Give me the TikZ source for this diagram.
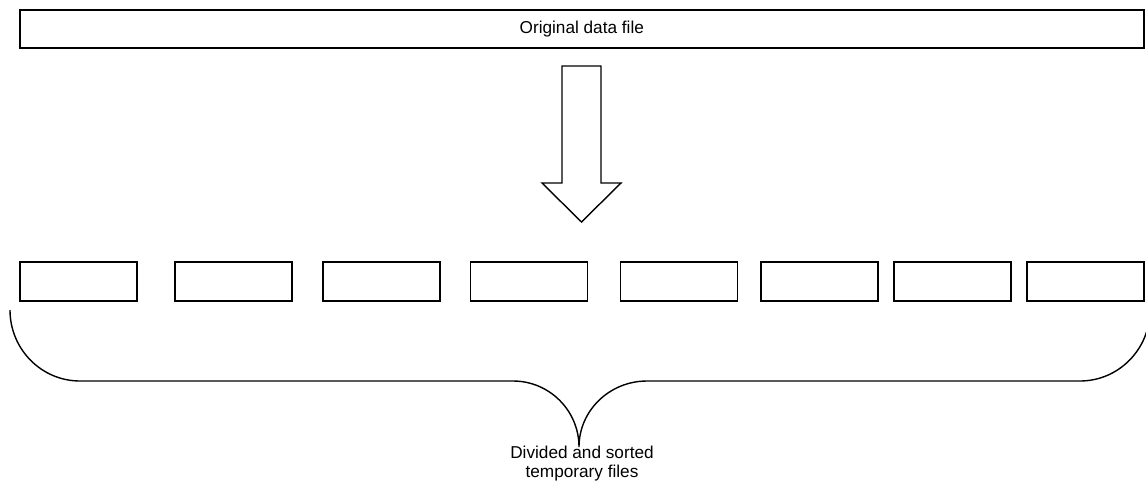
\documentclass[tikz,border=0pt]{standalone}
\usepackage{fontspec}
\setmainfont{Liberation Sans}
\begin{document}
\begin{tikzpicture}[x=1pt,y=-1pt,
  filebox/.style={draw=black, line width=1.6pt, inner sep=0pt, anchor=north west,
    minimum width=117pt, minimum height=39pt},
  bigarrow/.style={draw=black, line width=1.4pt, line join=miter},
  bracepath/.style={draw=black, line width=1.4pt},
  lbl/.style={font=\fontsize{17.2}{19}\selectfont, inner sep=0pt}]
\useasboundingbox (0,0) rectangle (1146,483);
% top bar
\node[filebox, minimum width=1124pt, minimum height=38pt] (orig) at (19,9) {};
\node[lbl] (origtext) at (orig.center) {Original data file};
% arrow
\path[bigarrow] (562,66) -- (601,66) -- (601,183) -- (621,183) -- (581.5,222)
  -- (542,183) -- (562,183) -- cycle;
% temporary files
\node[filebox] (f1) at (19,261) {};
\node[filebox] (f2) at (174,261) {};
\node[filebox] (f3) at (322,261) {};
\node[filebox] (f4) at (469.5,261) {};
\node[filebox] (f5) at (619.5,261) {};
\node[filebox] (f6) at (760,261) {};
\node[filebox] (f7) at (893,261) {};
\node[filebox] (f8) at (1026,261) {};
% brace
\coordinate (bl) at (10,310);
\coordinate (br) at (1150,310);
\coordinate (tip) at (579,447);
\path[bracepath] (bl) .. controls (10,349.2) and (41.4,381) .. (80,381)
  -- (513,381) .. controls (549.4,381) and (579,410.6) .. (tip)
  .. controls (579,410.6) and (609.5,381) .. (647,381)
  -- (1080,381) .. controls (1118.6,381) and (1150,349.2) .. (br);
% label
\node[lbl, align=center, anchor=base] (lab) at (582,477) {Divided and sorted\\temporary files};
\end{tikzpicture}
\end{document}
